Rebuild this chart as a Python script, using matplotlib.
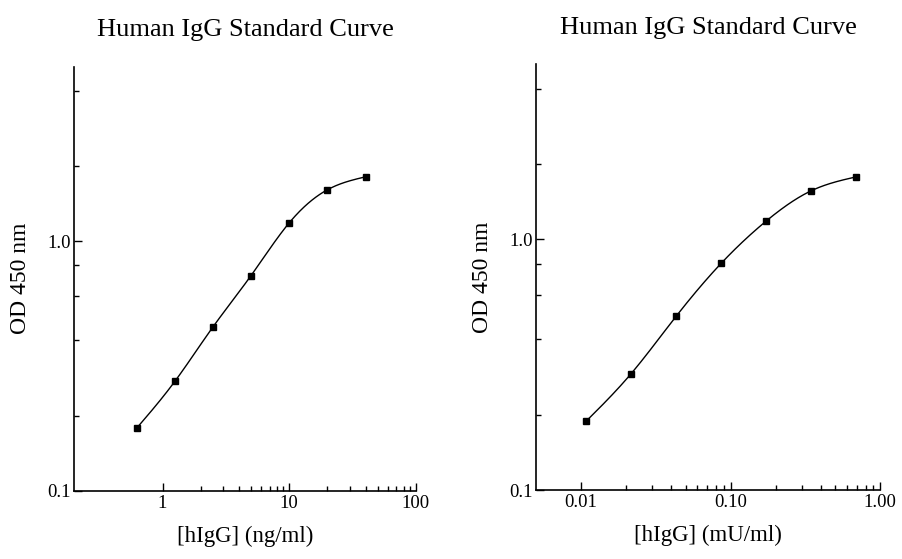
import numpy as np
import matplotlib
matplotlib.use("Agg")
import matplotlib.pyplot as plt
from matplotlib.ticker import FixedLocator, FixedFormatter, NullFormatter

plt.rcParams['font.family'] = ['Liberation Serif', 'DejaVu Serif']

# data
conc_ng = [0.625, 1.25, 2.5, 5, 10, 20, 40]
od_ng = [0.178, 0.274, 0.453, 0.728, 1.184, 1.606, 1.81]

conc_mu = [0.0108, 0.0216, 0.0432, 0.0864, 0.1728, 0.3456, 0.6912]
od_mu = [0.188, 0.291, 0.493, 0.802, 1.183, 1.563, 1.777]

title_txt = "Human IgG Standard Curve"
ylab = "OD 450 nm"
xlab_ng = "[hIgG] (ng/ml)"
xlab_mu = "[hIgG] (mU/ml)"

y_major = [0.1, 1.0]
y_major_lab = ["0.1", "1.0"]
y_minor = [0.2, 0.4, 0.6, 0.8, 2, 4]

x_major_ng = [1, 10, 100]
x_major_ng_lab = ["1", "10", "100"]
x_minor_ng = [2, 3, 4, 5, 6, 7, 8, 9, 20, 30, 40, 50, 60, 70, 80, 90]

x_major_mu = [0.01, 0.1, 1.0]
x_major_mu_lab = ["0.01", "0.10", "1.00"]
x_minor_mu = [0.02, 0.03, 0.04, 0.05, 0.06, 0.07, 0.08, 0.09,
              0.2, 0.3, 0.4, 0.5, 0.6, 0.7, 0.8, 0.9]


def spline_loglog(x, y, n=300):
    # natural cubic spline through the points, in log-log space
    lx = np.log10(np.array(x, float))
    ly = np.log10(np.array(y, float))
    m = len(lx)
    h = np.diff(lx)
    A = np.zeros((m, m))
    b = np.zeros(m)
    A[0, 0] = 1
    A[-1, -1] = 1
    for i in range(1, m - 1):
        A[i, i - 1] = h[i - 1]
        A[i, i] = 2 * (h[i - 1] + h[i])
        A[i, i + 1] = h[i]
        b[i] = 3 * ((ly[i + 1] - ly[i]) / h[i] - (ly[i] - ly[i - 1]) / h[i - 1])
    c = np.linalg.solve(A, b)
    bb = (ly[1:] - ly[:-1]) / h - h * (2 * c[:-1] + c[1:]) / 3
    d = (c[1:] - c[:-1]) / (3 * h)
    xs = np.linspace(lx[0], lx[-1], n)
    idx = np.clip(np.searchsorted(lx, xs) - 1, 0, m - 2)
    dx = xs - lx[idx]
    ys = ly[idx] + bb[idx] * dx + c[idx] * dx ** 2 + d[idx] * dx ** 3
    return 10 ** xs, 10 ** ys


def draw(ax, x, y, xlim, xmaj, xlab_list, xmin, xlabel):
    sx, sy = spline_loglog(x, y)
    ax.plot(sx, sy, color='black', lw=1.0)
    ax.plot(x, y, 's', color='black', ms=4.2)
    ax.set_xscale('log')
    ax.set_yscale('log')
    ax.set_xlim(*xlim)
    ax.set_ylim(0.1, 5)

    ax.xaxis.set_major_locator(FixedLocator(xmaj))
    ax.xaxis.set_major_formatter(FixedFormatter(xlab_list))
    ax.xaxis.set_minor_locator(FixedLocator(xmin))
    ax.xaxis.set_minor_formatter(NullFormatter())
    ax.yaxis.set_major_locator(FixedLocator(y_major))
    ax.yaxis.set_major_formatter(FixedFormatter(y_major_lab))
    ax.yaxis.set_minor_locator(FixedLocator(y_minor))
    ax.yaxis.set_minor_formatter(NullFormatter())

    ax.tick_params(which='both', direction='in', width=1.0, labelsize=13.5, pad=2)
    ax.tick_params(which='major', length=6)
    ax.tick_params(which='minor', length=3.5)
    ax.tick_params(axis='x', which='major', pad=3)

    ax.spines['top'].set_visible(False)
    ax.spines['right'].set_visible(False)
    ax.spines['left'].set_linewidth(1.2)
    ax.spines['bottom'].set_linewidth(1.2)

    ax.set_title(title_txt, fontsize=19, pad=22)
    ax.set_ylabel(ylab, fontsize=17, labelpad=12)
    ax.set_xlabel(xlabel, fontsize=16.5, labelpad=10)


fig = plt.figure(figsize=(9.03, 5.59), dpi=100)
ax1 = fig.add_axes([0.0819, 0.1222, 0.3787, 0.7585])
ax2 = fig.add_axes([0.5936, 0.1234, 0.381, 0.7616])

draw(ax1, conc_ng, od_ng, (0.2, 100), x_major_ng, x_major_ng_lab, x_minor_ng, xlab_ng)
draw(ax2, conc_mu, od_mu, (0.005, 1.0), x_major_mu, x_major_mu_lab, x_minor_mu, xlab_mu)

fig.savefig("out.png", dpi=100)
